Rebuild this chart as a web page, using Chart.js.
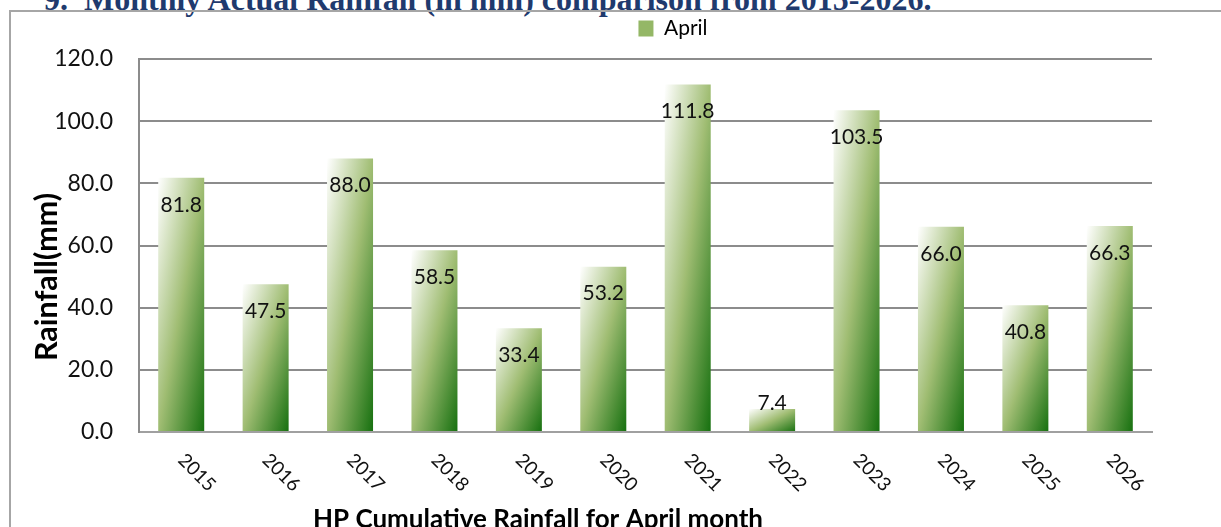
<!DOCTYPE html>
<html>
<head>
<meta charset="utf-8">
<script src="https://cdn.jsdelivr.net/npm/chart.js@4.4.1/dist/chart.umd.min.js"></script>
<style>
  html, body { margin: 0; padding: 0; background: #fff; }
  body { width: 1221px; height: 527px; position: relative; overflow: hidden; }
  #pageTitle {
    position: absolute; left: 44px; top: -17px; white-space: nowrap;
    font: bold 32px "Liberation Serif", "Times New Roman", serif; line-height: 32px;
    color: #1f3a6e;
  }
  #frame {
    position: absolute; left: 9px; top: 10px; width: 1300px; height: 600px;
    border: 2px solid #a6a6a6;
  }
  #wrap { position: absolute; left: 0; top: 0; width: 1221px; height: 527px; }
</style>
</head>
<body>
<div id="pageTitle">9.&nbsp;&nbsp;Monthly Actual Rainfall (in mm) comparison from 2015-2026.</div>
<div id="frame"></div>
<div id="wrap"><canvas id="rainChart"></canvas></div>
<script>
// Chart data
const years = ['2015', '2016', '2017', '2018', '2019', '2020', '2021', '2022', '2023', '2024', '2025', '2026'];
const aprilRain = [81.8, 47.5, 88.0, 58.5, 33.4, 53.2, 111.8, 7.4, 103.5, 66.0, 40.8, 66.3];
const yTicks = [0, 20, 40, 60, 80, 100, 120];

const FONT = 'Lato, "Open Sans", sans-serif';
const BAR_PCT = 0.545;

// Diagonal gradient scaled to each bar's box (top-left light, bottom-right dark)
function barGradient(context) {
  const chart = context.chart;
  const xs = chart.scales.x, ys = chart.scales.y;
  if (!xs || !ys || context.dataIndex === undefined) return '#94b766';
  const i = context.dataIndex;
  const half = xs.width / years.length * BAR_PCT / 2;
  const left = xs.getPixelForValue(i) - half, w = half * 2;
  const top = ys.getPixelForValue(aprilRain[i]);
  const h = Math.max(ys.getPixelForValue(0) - top, 1);
  const k = 2 / (1 / (w * w) + 1 / (h * h));
  const g = chart.ctx.createLinearGradient(left, top, left + k / w, top + k / h);
  g.addColorStop(0, '#ffffff');
  g.addColorStop(0.5, '#a0bd73');
  g.addColorStop(1, '#16700f');
  return g;
}

// Values written inside the top of each bar
const valueLabels = {
  id: 'valueLabels',
  afterDatasetsDraw(chart) {
    const ctx = chart.ctx;
    const meta = chart.getDatasetMeta(0);
    ctx.save();
    ctx.font = '21px ' + FONT;
    ctx.fillStyle = '#111';
    ctx.textAlign = 'center';
    ctx.textBaseline = 'middle';
    meta.data.forEach((bar, i) => {
      const tall = bar.base - bar.y > 40;
      ctx.fillText(aprilRain[i].toFixed(1), bar.x, tall ? bar.y + 27 : bar.y - 6);
    });
    ctx.restore();
  }
};

function fitFont(ctx, text, target, weight) {
  ctx.font = weight + ' 100px ' + FONT;
  return 100 * target / ctx.measureText(text).width;
}

// Slanted year labels and axis titles
const axisText = {
  id: 'axisText',
  afterLayout(chart) {
    // move the legend over to where it sits in the picture
    const lg = chart.legend;
    lg.left += 97; lg.right += 97;
    lg.top -= 10; lg.bottom -= 10;
  },
  afterDraw(chart) {
    const ctx = chart.ctx;
    const xs = chart.scales.x;
    ctx.save();
    ctx.fillStyle = '#111';
    ctx.font = '19px ' + FONT;
    ctx.textAlign = 'left';
    ctx.textBaseline = 'middle';
    years.forEach((y, i) => {
      ctx.save();
      ctx.translate(xs.getPixelForValue(i), 457);
      ctx.rotate(Math.PI / 4);
      ctx.fillText(y, 0, 0);
      ctx.restore();
    });

    ctx.fillStyle = '#000';
    const xTitle = 'HP Cumulative Rainfall for April month';
    const xSize = fitFont(ctx, xTitle, 450, 'bold');
    ctx.font = 'bold ' + xSize.toFixed(1) + 'px ' + FONT;
    ctx.textAlign = 'center';
    ctx.fillText(xTitle, 538, 520);

    const yTitle = 'Rainfall(mm)';
    const ySize = fitFont(ctx, yTitle, 168, 'bold');
    ctx.font = 'bold ' + ySize.toFixed(1) + 'px ' + FONT;
    ctx.translate(47, 277);
    ctx.rotate(-Math.PI / 2);
    ctx.fillText(yTitle, 0, 0);
    ctx.restore();
  }
};

const chart = new Chart(document.getElementById('rainChart'), {
  type: 'bar',
  data: {
    labels: years,
    datasets: [{
      label: 'April',
      data: aprilRain,
      backgroundColor: barGradient,
      borderWidth: 0,
      barPercentage: BAR_PCT,
      categoryPercentage: 1
    }]
  },
  options: {
    responsive: true,
    maintainAspectRatio: false,
    animation: false,
    layout: { padding: { top: 18, left: 0, right: 69, bottom: 0 } },
    plugins: {
      legend: {
        display: true,
        position: 'top',
        labels: {
          font: { family: FONT, size: 21 },
          color: '#111',
          boxWidth: 15,
          boxHeight: 16,
          padding: 10,
          generateLabels: () => [{ text: 'April', fillStyle: '#94b766', strokeStyle: '#94b766', lineWidth: 0, datasetIndex: 0 }]
        }
      },
      tooltip: { enabled: false }
    },
    scales: {
      x: {
        grid: { display: false },
        border: { display: true, color: '#a0a0a0', width: 2 },
        ticks: { display: false },
        afterFit(scale) { scale.height = 95; }
      },
      y: {
        min: 0,
        max: 120,
        afterBuildTicks(scale) { scale.ticks = yTicks.map(v => ({ value: v })); },
        grid: { color: '#8c8c8c', lineWidth: 2, drawTicks: false },
        border: { display: true, color: '#8c8c8c', width: 2 },
        ticks: {
          padding: 26,
          color: '#111',
          font: { family: FONT, size: 23 },
          callback: v => Number(v).toFixed(1)
        },
        afterFit(scale) { scale.width = 139; }
      }
    }
  },
  plugins: [valueLabels, axisText]
});
</script>
</body>
</html>
